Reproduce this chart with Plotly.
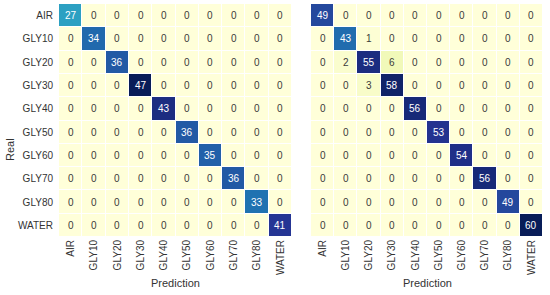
import plotly.graph_objects as go
from plotly.subplots import make_subplots

labels = ["AIR", "GLY10", "GLY20", "GLY30", "GLY40", "GLY50", "GLY60", "GLY70", "GLY80", "WATER"]

left_diag = [27, 34, 36, 47, 43, 36, 35, 36, 33, 41]
right_diag = [49, 43, 55, 58, 56, 53, 54, 56, 49, 60]
# off-diagonal entries of the right matrix: (real, prediction, count)
right_off = [("GLY10", "GLY20", 1), ("GLY20", "GLY10", 2), ("GLY20", "GLY30", 6), ("GLY30", "GLY20", 3)]

n = len(labels)
left = [[left_diag[i] if i == j else 0 for j in range(n)] for i in range(n)]
right = [[right_diag[i] if i == j else 0 for j in range(n)] for i in range(n)]
for r, c, v in right_off:
    right[labels.index(r)][labels.index(c)] = v

ylgnbu = [[0.0, "#ffffd9"], [0.125, "#edf8b1"], [0.25, "#c7e9b4"], [0.375, "#7fcdbb"],
          [0.5, "#41b6c4"], [0.625, "#1d91c0"], [0.75, "#225ea8"], [0.875, "#253494"], [1.0, "#081d58"]]

FONT = "Liberation Sans, Arial"
fig = make_subplots(rows=1, cols=2)
ann = []
for k, mat in enumerate([left, right]):
    vmax = max(max(row) for row in mat)
    fig.add_trace(go.Heatmap(z=mat, x=labels, y=labels, colorscale=ylgnbu, zmin=0, zmax=vmax,
                             showscale=False, xgap=1, ygap=1, hoverinfo="skip"), row=1, col=k + 1)
    xr = "x" if k == 0 else "x2"
    yr = "y" if k == 0 else "y2"
    for i in range(n):
        for j in range(n):
            v = mat[i][j]
            col = "white" if v / vmax > 0.5 else "#3a3a3a"
            ann.append(dict(x=labels[j], y=labels[i], xref=xr, yref=yr, text=str(v), showarrow=False,
                            font=dict(size=10, color=col, family=FONT)))

xd1 = [59 / 550, 292 / 550]
xd2 = [311 / 550, 543 / 550]
ann.append(dict(x=sum(xd1) / 2, y=1 - 283 / 295, xref="paper", yref="paper", text="Prediction",
                xanchor="center", yanchor="middle",
                showarrow=False, font=dict(size=11, color="#333333", family=FONT)))
ann.append(dict(x=sum(xd2) / 2, y=1 - 283 / 295, xref="paper", yref="paper", text="Prediction",
                xanchor="center", yanchor="middle",
                showarrow=False, font=dict(size=11, color="#333333", family=FONT)))
ann.append(dict(x=10 / 550, y=1 - 150 / 295, xref="paper", yref="paper", text="Real", textangle=-90,
                xanchor="center", yanchor="middle",
                showarrow=False, font=dict(size=11, color="#333333", family=FONT)))

fig.update_layout(
    width=550, height=295, margin=dict(l=0, r=0, t=0, b=0, autoexpand=False),
    paper_bgcolor="white", plot_bgcolor="white",
    font=dict(family=FONT, size=10, color="#333333"),
    annotations=ann,
    xaxis=dict(domain=xd1, tickangle=-90, showgrid=False, zeroline=False, ticks="", automargin=False),
    xaxis2=dict(domain=xd2, tickangle=-90, showgrid=False, zeroline=False, ticks="", automargin=False),
    yaxis=dict(domain=[1 - 237 / 295, 1 - 4 / 295], autorange="reversed", showgrid=False, zeroline=False,
               ticks="", automargin=False, ticklabelstandoff=5),
    yaxis2=dict(domain=[1 - 237 / 295, 1 - 4 / 295], autorange="reversed", showgrid=False, zeroline=False,
                showticklabels=False, ticks="", automargin=False),
)
fig.write_html("out.html", config={"displayModeBar": False},
               post_script="document.body.style.margin='0px';document.body.style.padding='0px';")
